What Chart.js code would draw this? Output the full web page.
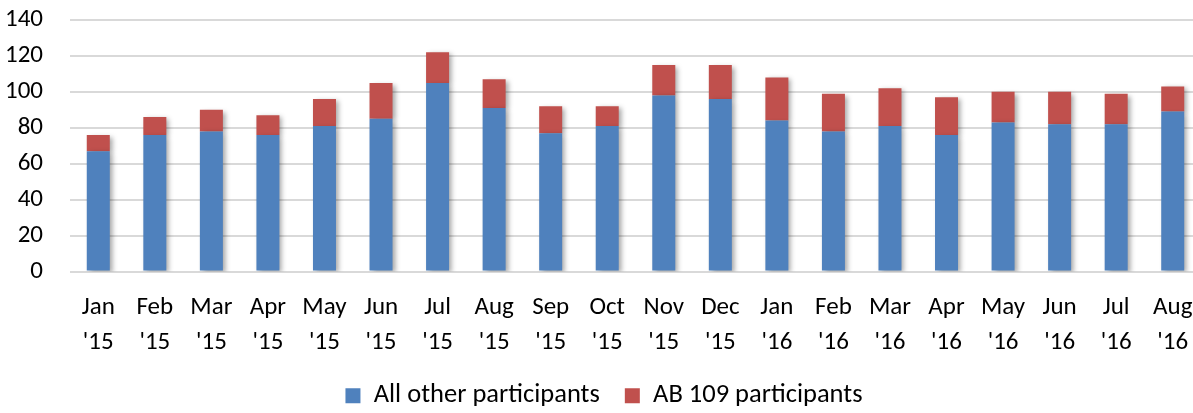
<!DOCTYPE html>
<html>
<head>
<meta charset="utf-8">
<script src="https://cdn.jsdelivr.net/npm/chart.js@4.4.1/dist/chart.umd.min.js"></script>
<style>
  html, body { margin: 0; padding: 0; background: #fff; overflow: hidden; }
  /* plot area runs a little past the right edge, as in the original export */
  #wrap { width: 1201px; height: 413px; }
</style>
</head>
<body>
<div id="wrap"><canvas id="myChart"></canvas></div>
<script>
const months = [
  ['Jan', "'15"], ['Feb', "'15"], ['Mar', "'15"], ['Apr', "'15"], ['May', "'15"],
  ['Jun', "'15"], ['Jul', "'15"], ['Aug', "'15"], ['Sep', "'15"], ['Oct', "'15"],
  ['Nov', "'15"], ['Dec', "'15"], ['Jan', "'16"], ['Feb', "'16"], ['Mar', "'16"],
  ['Apr', "'16"], ['May', "'16"], ['Jun', "'16"], ['Jul', "'16"], ['Aug', "'16"]
];
const otherParticipants = [67, 76, 78, 76, 81, 85, 105, 91, 77, 81, 98, 96, 84, 78, 81, 76, 83, 82, 82, 89];
const ab109Participants = [9, 10, 12, 11, 15, 20, 17, 16, 15, 11, 17, 19, 24, 21, 21, 21, 17, 18, 17, 14];

const font = 'Carlito, Calibri, Lato, sans-serif';

// soft drop shadow behind the bars, like the office chart
const barShadow = {
    id: 'barShadow',
    beforeDatasetsDraw(chart) {
        const ctx = chart.ctx;
        ctx.save();
        ctx.shadowColor = 'rgba(0,0,0,0.35)';
        ctx.shadowBlur = 5;
        ctx.shadowOffsetX = 3;
        ctx.shadowOffsetY = 2;
    },
    afterDatasetsDraw(chart) {
        chart.ctx.restore();
    }
};

new Chart('myChart', {
    type: 'bar',
    data: {
        labels: months,
        datasets: [
            {
                label: 'All other participants',
                data: otherParticipants,
                backgroundColor: '#4F81BD',
                barPercentage: 0.407,
                categoryPercentage: 1
            },
            {
                label: 'AB 109 participants',
                data: ab109Participants,
                backgroundColor: '#C0504D',
                barPercentage: 0.407,
                categoryPercentage: 1
            }
        ]
    },
    options: {
        responsive: true,
        maintainAspectRatio: false,
        animation: false,
        layout: { padding: { left: 7, right: 0, top: 20, bottom: -6 } },
        scales: {
            x: {
                stacked: true,
                grid: { display: false, drawTicks: false },
                border: { display: false },
                ticks: {
                    color: '#000',
                    font: { family: font, size: 25, lineHeight: 1.4 },
                    maxRotation: 0,
                    autoSkip: false,
                    padding: 19
                },
                afterFit(s) {
                    s.height = 86;
                    s.paddingLeft = 0;
                    s.paddingRight = 0;
                }
            },
            y: {
                stacked: true,
                min: 0,
                max: 140,
                grid: { color: '#d9d9d9', lineWidth: 2, drawTicks: false },
                border: { display: false },
                ticks: {
                    stepSize: 20,
                    autoSkip: false,
                    color: '#000',
                    font: { family: font, size: 25 },
                    padding: 27
                },
                afterFit(s) {
                    s.width = 63;
                    s.paddingTop = 0;
                    s.paddingBottom = 0;
                }
            }
        },
        plugins: {
            legend: {
                position: 'bottom',
                labels: {
                    color: '#000',
                    font: { family: font, size: 26.5 },
                    boxWidth: 15,
                    boxHeight: 15,
                    padding: 25
                }
            },
            tooltip: { enabled: false }
        }
    },
    plugins: [barShadow]
});
</script>
</body>
</html>
